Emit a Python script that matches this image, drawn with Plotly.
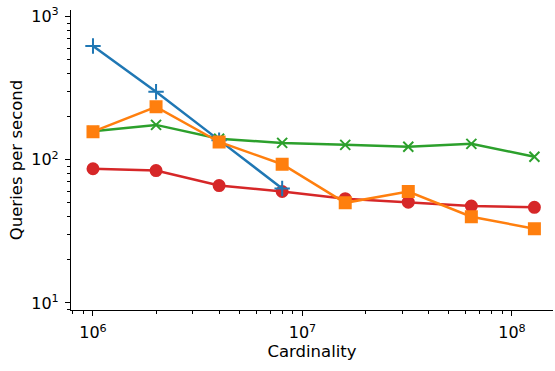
import plotly.graph_objects as go

cardinality = [1e6, 2e6, 4e6, 8e6, 1.6e7, 3.2e7, 6.4e7, 1.28e8]
blue_qps = [622, 298, 137, 63]
orange_qps = [157, 234, 133, 93, 50, 60, 40, 33]
green_qps = [158, 175, 140, 131, 127, 123, 129, 105]
red_qps = [86.5, 84, 66, 60, 53.5, 50.5, 47.5, 46.5]
x_tickvals = [1e6, 1e7, 1e8]
x_ticktext = ["10<sup>6</sup>", "10<sup>7</sup>", "10<sup>8</sup>"]
y_tickvals = [10, 100, 1000]
y_ticktext = ["10<sup>1</sup>", "10<sup>2</sup>", "10<sup>3</sup>"]

fig = go.Figure()

def add(xs, ys, color, symbol, size, lw=2.5):
    fig.add_trace(go.Scatter(
        x=xs, y=ys, mode="lines+markers",
        line=dict(color=color, width=lw),
        marker=dict(color=color, symbol=symbol, size=size,
                    line=dict(color=color, width=2)),
        showlegend=False))

add(cardinality, green_qps, "#2ca02c", "x-thin", 10)
add(cardinality, red_qps, "#d62728", "circle", 11)
add(cardinality[:len(blue_qps)], blue_qps, "#1f77b4", "cross-thin", 11)
add(cardinality, orange_qps, "#ff7f0e", "square", 11)

tickfont = dict(family="DejaVu Sans", size=16, color="black")
titlefont = dict(family="DejaVu Sans", size=16.5, color="black")

common = dict(
    type="log", showgrid=False, zeroline=False,
    showline=True, linecolor="black", linewidth=1.2,
    ticks="outside", ticklen=5, tickwidth=1.2, tickcolor="black",
    tickfont=tickfont, ticklabelstandoff=3,
    minor=dict(tickmode="linear", dtick="D1", ticks="outside", ticklen=3,
               tickwidth=1, tickcolor="black", showgrid=False),
)

fig.update_layout(
    width=555, height=371,
    margin=dict(l=71, r=2, t=10, b=61),
    plot_bgcolor="white", paper_bgcolor="white",
    xaxis=dict(range=[5.895, 8.196],
               title=dict(text="Cardinality", font=titlefont, standoff=4),
               tickmode="array", tickvals=x_tickvals, ticktext=x_ticktext,
               **common),
    yaxis=dict(range=[0.951, 3.045],
               title=dict(text="Queries per second", font=titlefont, standoff=4),
               tickmode="array", tickvals=y_tickvals, ticktext=y_ticktext,
               **common),
)

fig.write_html("out.html")
